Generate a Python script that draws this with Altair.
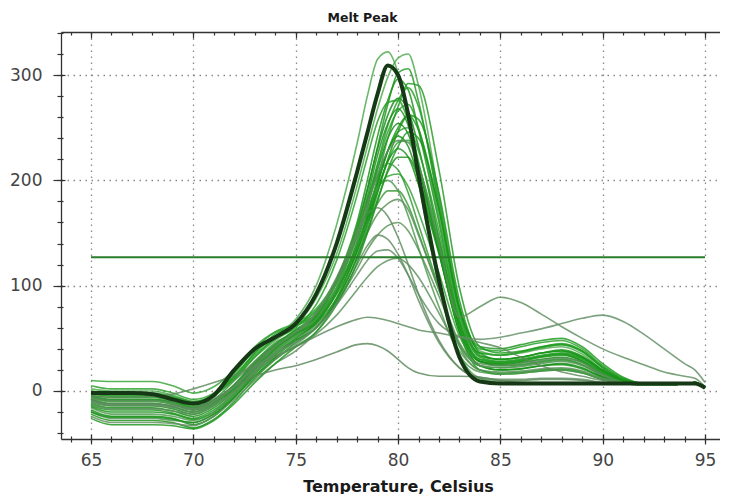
import altair as alt
import pandas as pd

# ---------------- data ----------------
TEMPS = [65, 66, 67, 68, 69, 70, 71, 72, 73, 74, 75, 76, 77, 78, 78.5, 79, 79.5, 80, 80.5,
         81, 82, 83, 84, 85, 86, 87, 88, 89, 90, 91, 92, 93, 94, 94.5, 95]

G01 = [0, -3, -3, -4, -9, -14, -6, 18, 38, 52, 68, 100, 158, 235, 280, 315, 322, 302, 258, 200, 100, 35, 12, 8, 8, 8, 8, 8, 7, 7, 6, 6, 7, 7, 3]
G02 = [2, 0, 0, 0, -4, -10, -4, 12, 32, 48, 62, 88, 130, 195, 232, 268, 298, 316, 320, 290, 185, 80, 38, 34, 36, 40, 42, 35, 20, 10, 7, 6, 7, 8, 3]
G03 = [-4, -6, -6, -6, -10, -16, -9, 6, 28, 44, 58, 74, 104, 152, 190, 232, 272, 302, 306, 275, 175, 75, 32, 28, 30, 33, 35, 28, 16, 9, 6, 6, 7, 8, 3]
G04 = [-8, -12, -12, -12, -15, -20, -12, 4, 26, 42, 56, 72, 106, 160, 200, 242, 276, 296, 286, 248, 160, 66, 28, 24, 25, 28, 30, 25, 14, 8, 6, 6, 7, 8, 3]
G05 = [-2, -5, -5, -5, -9, -15, -8, 10, 32, 50, 62, 76, 104, 148, 180, 216, 252, 276, 288, 270, 180, 80, 40, 38, 42, 46, 48, 40, 24, 12, 7, 6, 7, 8, 3]
G06 = [-12, -16, -16, -16, -19, -24, -16, 0, 22, 40, 54, 70, 104, 156, 192, 230, 262, 278, 266, 232, 145, 60, 24, 20, 21, 24, 26, 22, 13, 8, 6, 6, 7, 8, 3]
G07 = [5, 2, 2, 2, -2, -8, -2, 14, 36, 52, 64, 78, 106, 150, 180, 214, 246, 266, 272, 250, 165, 72, 36, 34, 37, 41, 44, 37, 22, 11, 7, 6, 7, 8, 3]
G08 = [-15, -20, -20, -20, -22, -27, -20, -4, 18, 36, 50, 66, 98, 148, 184, 224, 254, 268, 252, 214, 132, 55, 20, 16, 17, 19, 20, 17, 11, 7, 6, 6, 7, 8, 3]
G09 = [-6, -9, -9, -9, -12, -18, -11, 4, 26, 44, 58, 70, 96, 136, 164, 196, 228, 250, 262, 248, 172, 78, 42, 40, 44, 48, 50, 42, 26, 13, 7, 6, 7, 8, 3]
G10 = [-18, -24, -24, -24, -26, -32, -24, -6, 16, 34, 50, 64, 94, 142, 174, 210, 240, 254, 244, 212, 138, 60, 28, 25, 27, 30, 32, 27, 16, 9, 6, 6, 7, 8, 3]
G11 = [-3, -4, -4, -4, -7, -12, -4, 14, 36, 54, 62, 72, 98, 138, 166, 198, 228, 246, 250, 228, 152, 68, 33, 30, 32, 36, 38, 32, 19, 10, 7, 6, 7, 8, 3]
G12 = [-22, -28, -28, -28, -30, -35, -27, -10, 12, 30, 46, 60, 88, 134, 164, 198, 228, 242, 232, 202, 132, 56, 24, 20, 21, 24, 25, 21, 13, 8, 6, 6, 7, 8, 3]
G13 = [0, -2, -2, -2, -5, -10, -3, 16, 40, 56, 64, 72, 96, 134, 160, 190, 218, 236, 238, 214, 145, 66, 36, 34, 37, 42, 44, 38, 23, 11, 7, 6, 7, 8, 3]
G14 = [-10, -14, -14, -14, -17, -22, -14, 2, 24, 42, 54, 66, 92, 132, 160, 192, 218, 230, 222, 196, 130, 58, 28, 26, 28, 32, 34, 29, 17, 9, 6, 6, 7, 8, 3]
G15 = [-14, -18, -18, -18, -21, -26, -18, -2, 20, 38, 52, 64, 88, 126, 152, 182, 208, 222, 222, 202, 140, 64, 30, 27, 29, 33, 36, 31, 19, 10, 7, 6, 7, 8, 3]
G16 = [-7, -10, -10, -10, -13, -18, -10, 6, 28, 46, 56, 72, 102, 150, 178, 204, 216, 210, 188, 158, 98, 42, 20, 17, 18, 20, 21, 18, 11, 7, 6, 6, 7, 8, 3]
G17 = [10, 9, 9, 9, 5, -2, 4, 20, 42, 56, 62, 76, 102, 146, 170, 192, 204, 206, 194, 170, 112, 52, 30, 28, 30, 34, 36, 31, 19, 10, 7, 6, 7, 8, 3]
G18 = [-16, -22, -22, -22, -24, -28, -20, -2, 20, 38, 50, 68, 98, 146, 172, 194, 200, 190, 166, 136, 80, 34, 18, 16, 17, 19, 20, 17, 11, 7, 6, 6, 7, 8, 3]
G19 = [-9, -12, -12, -12, -15, -20, -12, 4, 26, 44, 54, 68, 94, 136, 160, 178, 190, 190, 176, 150, 96, 44, 24, 22, 24, 27, 29, 25, 15, 8, 6, 6, 7, 8, 3]
G20 = [-20, -26, -26, -26, -28, -30, -22, -6, 14, 30, 44, 60, 86, 126, 150, 168, 178, 182, 172, 148, 96, 46, 26, 24, 26, 29, 31, 27, 16, 9, 6, 6, 7, 8, 3]
G21 = [-5, -8, -8, -8, -10, -12, -4, 10, 28, 42, 54, 74, 108, 150, 168, 174, 166, 146, 120, 92, 48, 22, 12, 10, 10, 11, 11, 10, 8, 7, 6, 6, 7, 7, 3]
G22 = [-11, -14, -14, -14, -16, -20, -13, 0, 20, 36, 48, 62, 84, 116, 134, 148, 157, 160, 152, 134, 90, 44, 24, 22, 23, 26, 28, 24, 15, 8, 6, 6, 7, 8, 3]
G23 = [-24, -30, -30, -30, -31, -33, -24, -8, 10, 26, 38, 56, 84, 120, 138, 148, 144, 130, 110, 86, 46, 22, 13, 11, 11, 12, 12, 11, 8, 7, 6, 6, 7, 7, 3]
G24 = [-13, -17, -17, -17, -19, -22, -14, 0, 18, 32, 42, 54, 72, 96, 108, 118, 124, 126, 120, 108, 74, 38, 20, 18, 19, 21, 22, 19, 12, 8, 6, 6, 7, 8, 3]
G25 = [-5, -8, -8, -8, -11, -16, -10, 2, 22, 40, 54, 66, 94, 138, 168, 202, 240, 270, 292, 290, 210, 98, 42, 36, 38, 42, 45, 38, 22, 11, 7, 6, 7, 8, 3]
G26 = [-20, -25, -25, -25, -27, -30, -22, -6, 14, 32, 48, 60, 86, 128, 156, 188, 220, 246, 262, 258, 188, 86, 36, 30, 32, 36, 39, 33, 20, 10, 7, 6, 7, 8, 3]
G27 = [-1, -3, -3, -3, -6, -11, -4, 12, 34, 50, 60, 82, 124, 186, 222, 256, 274, 276, 256, 218, 136, 58, 30, 27, 29, 33, 35, 30, 18, 9, 6, 6, 7, 8, 3]
G28 = [-26, -32, -32, -32, -33, -36, -28, -12, 8, 26, 42, 56, 82, 122, 150, 180, 210, 232, 246, 240, 172, 78, 34, 30, 32, 36, 38, 32, 19, 10, 7, 6, 7, 8, 3]
C01 = [-4, -6, -6, -5, -3, 2, 8, 15, 24, 33, 42, 52, 61, 68, 70, 69, 67, 64, 61, 58, 55, 51, 46, 41, 32, 24, 18, 14, 10, 8, 7, 6, 7, 7, 3]
C02 = [-8, -12, -12, -12, -14, -16, -8, 4, 14, 20, 24, 30, 37, 44, 45, 43, 38, 30, 22, 17, 14, 14, 13, 10, 8, 7, 7, 7, 7, 7, 6, 6, 7, 7, 3]
C03 = [-10, -13, -13, -13, -15, -18, -10, 4, 22, 36, 46, 60, 82, 110, 124, 133, 134, 126, 110, 92, 64, 52, 49, 51, 55, 59, 64, 69, 72, 66, 54, 40, 26, 20, 8]
C04 = [-6, -9, -9, -9, -12, -17, -10, 4, 24, 42, 56, 74, 104, 150, 178, 206, 228, 238, 236, 214, 140, 70, 80, 89, 84, 73, 61, 50, 40, 32, 25, 18, 14, 12, 4]

HIGHLIGHT = [-2, -2, -2, -3, -8, -12, -4, 20, 40, 51, 64, 92, 140, 208, 245, 282, 309, 300, 262, 205, 105, 32, 9, 7, 7, 7, 7, 7, 7, 7, 7, 7, 7, 7, 3]

CURVE_NAMES = ["G01", "G02", "G03", "G04", "G05", "G06", "G07", "G08", "G09", "G10",
               "G11", "G12", "G13", "G14", "G15", "G16", "G17", "G18", "G19", "G20",
               "G21", "G22", "G23", "G24", "G25", "G26", "G27", "G28",
               "C01", "C02", "C03", "C04"]
CURVE_VALUES = [G01, G02, G03, G04, G05, G06, G07, G08, G09, G10,
                G11, G12, G13, G14, G15, G16, G17, G18, G19, G20,
                G21, G22, G23, G24, G25, G26, G27, G28,
                C01, C02, C03, C04]
CURVE_COLORS = ["#4aa84a", "#4aa84a", "#1f971f", "#178f17", "#259c25", "#128a12", "#2aa02a", "#158e15",
                "#1c961c", "#0f880f", "#24a024", "#149214", "#2ba42b", "#118e11", "#1a941a", "#2f9a2f",
                "#33a233", "#4b984b", "#3a993a", "#588f58", "#5c8c5c", "#569256", "#628c62", "#5a905a",
                "#1e9a1e", "#169416", "#21a021", "#1a951a",
                "#5d8a5d", "#5a885a", "#5f8d63", "#5d8d5d"]

THRESHOLD = [127]
THRESHOLD_SPAN = [65, 95]

MAJOR_X = [65, 70, 75, 80, 85, 90, 95]
MINOR_X = list(range(64, 96))
MAJOR_Y = [0, 100, 200, 300]
MINOR_Y = list(range(-40, 341, 20))

# ---------------- tables ----------------
rows = []
for name, vals in zip(CURVE_NAMES, CURVE_VALUES):
    assert len(vals) == len(TEMPS), name
    for t, v in zip(TEMPS, vals):
        rows.append({"curve": name, "temp": t, "value": v})
df = pd.DataFrame(rows)
assert len(HIGHLIGHT) == len(TEMPS)
df_hi = pd.DataFrame({"temp": TEMPS, "value": HIGHLIGHT})
df_thr = pd.DataFrame({"x0": [THRESHOLD_SPAN[0]], "x1": [THRESHOLD_SPAN[1]], "level": THRESHOLD})

xs = alt.Scale(domain=[63.534, 95.73], nice=False, zero=False)
ys = alt.Scale(domain=[-45.6, 340.9], nice=False, zero=False)

AX = "#333333"
FONT = "DejaVu Sans"


def tick_axis(orient, values, size, offset=0):
    return alt.Axis(orient=orient, values=values, tickSize=size, offset=offset, tickColor=AX,
                    tickWidth=1.2, domain=False, labels=False, grid=False, title=None)


ax_x_main = alt.Axis(orient="bottom", values=MAJOR_X, format="d", tickSize=5, tickColor=AX, tickWidth=1.2,
                     domain=True, domainColor=AX, domainWidth=1.3,
                     grid=True, gridColor="#8a8a8a", gridDash=[1.5, 4.5], gridWidth=1.3,
                     labelFont=FONT, labelFontSize=17, labelColor="#444444", labelPadding=8,
                     labelFlush=False, labelOverlap=False,
                     title="Temperature, Celsius", titleFont=FONT, titleFontSize=16, titleFontWeight="bold",
                     titleColor="#1a1a1a", titleX=337, titleY=52, titleBaseline="alphabetic", titleAlign="center")
ax_y_main = alt.Axis(orient="left", values=MAJOR_Y, format="d", tickSize=8, tickColor=AX, tickWidth=1.2,
                     domain=True, domainColor=AX, domainWidth=1.3,
                     grid=True, gridColor="#8a8a8a", gridDash=[1.5, 4.5], gridWidth=1.3,
                     labelFont=FONT, labelFontSize=17, labelColor="#444444", labelPadding=11,
                     labelFlush=False, labelOverlap=False, title=None)
ax_x_top = alt.Axis(orient="top", values=MAJOR_X, ticks=False, domain=True, domainColor=AX, domainWidth=1.3,
                    labels=False, grid=False, title=None)

lines = alt.Chart(df).mark_line(strokeWidth=1.6, opacity=0.82, interpolate="monotone").encode(
    x=alt.X("temp:Q", scale=xs, axis=ax_x_main),
    y=alt.Y("value:Q", scale=ys, axis=ax_y_main),
    color=alt.Color("curve:N", scale=alt.Scale(domain=CURVE_NAMES, range=CURVE_COLORS), legend=None),
)

thr = alt.Chart(df_thr).mark_rule(color="#2a7d2a", strokeWidth=2).encode(
    x=alt.X("x0:Q", scale=xs, axis=ax_x_top),
    x2="x1:Q",
    y=alt.Y("level:Q", scale=ys, axis=None),
)

black = alt.Chart(df_hi).mark_line(strokeWidth=4, color="#173817", interpolate="monotone").encode(
    x=alt.X("temp:Q", scale=xs, axis=tick_axis("bottom", MAJOR_X, 5, -5)),
    y=alt.Y("value:Q", scale=ys, axis=tick_axis("left", MAJOR_Y, 4, -4)),
)


def dummy(xaxis, yaxis):
    return alt.Chart(df_thr).mark_point(opacity=0).encode(
        x=alt.X("x0:Q", scale=xs, axis=xaxis),
        y=alt.Y("level:Q", scale=ys, axis=yaxis),
    )


d1 = dummy(tick_axis("bottom", MINOR_X, 3), tick_axis("left", MINOR_Y, 4))
d2 = dummy(tick_axis("bottom", MINOR_X, 3, -3), tick_axis("left", MINOR_Y, 2, -2))
d3 = dummy(tick_axis("top", MAJOR_X, 6, -6), None)
d4 = dummy(tick_axis("top", MINOR_X, 3, -3), None)

chart = alt.layer(lines, thr, black, d1, d2, d3, d4).resolve_axis(
    x="independent", y="independent"
).properties(
    width=659,
    height=407,
    autosize=alt.AutoSizeParams(type="none"),
    padding={"left": 53, "top": 24, "right": 0, "bottom": 55},
    title=alt.TitleParams("Melt Peak", font=FONT, fontSize=12.5, fontWeight="bold", color="#1a1a1a",
                          anchor="middle", dx=-28, dy=18, offset=15, baseline="alphabetic", frame="group"),
    background="white",
).configure_view(stroke=None)

chart.save("out.html", embed_options={"renderer": "svg", "actions": False})
